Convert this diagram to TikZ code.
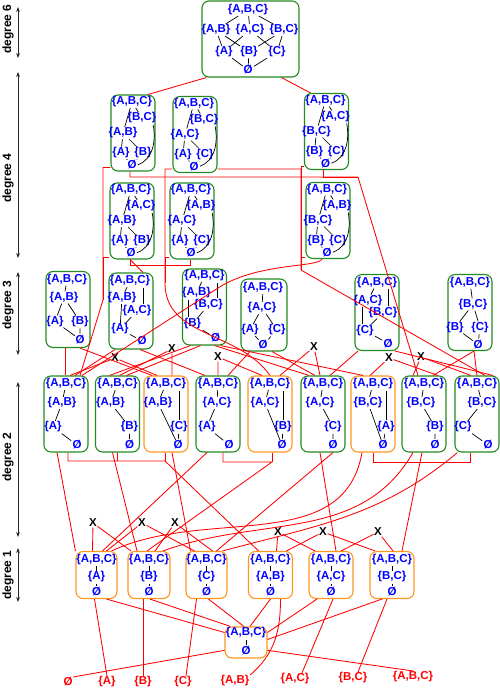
\documentclass[tikz,border=0pt]{standalone}
\usepackage{fontspec}
\setmainfont{Liberation Sans}
\usetikzlibrary{arrows.meta}

\definecolor{boxgreen}{RGB}{34,139,34}
\definecolor{boxorange}{RGB}{255,150,30}
\definecolor{setblue}{RGB}{0,0,255}

\newcommand{\sA}{\{A\}}
\newcommand{\sB}{\{B\}}
\newcommand{\sC}{\{C\}}
\newcommand{\sAB}{\{A,B\}}
\newcommand{\sAC}{\{A,C\}}
\newcommand{\sBC}{\{B,C\}}
\newcommand{\sABC}{\{A,B,C\}}
\newcommand{\sE}{\O}

\begin{document}
\begin{tikzpicture}[x=1pt, y=-1pt,
set/.style={text=setblue, inner sep=0.5pt, font=\bfseries\fontsize{11.5}{12}\selectfont},
lbl/.style={text=red, inner sep=0.5pt, font=\bfseries\fontsize{11.5}{12}\selectfont},
cross/.style={inner sep=0.5pt, font=\bfseries\fontsize{11.5}{12}\selectfont},
gbox/.style={draw=boxgreen, line width=1.1pt, rounded corners=7pt,
             minimum width=44pt, minimum height=76pt, inner sep=0pt},
obox/.style={gbox, draw=boxorange},
hasse/.style={black, line width=0.7pt, shorten <=0.8pt, shorten >=0.8pt},
wire/.style={red, line width=0.85pt},
axis/.style={{Stealth[length=5pt]}-{Stealth[length=5pt]}, line width=0.9pt, black!85},
deglabel/.style={rotate=90, font=\bfseries\fontsize{12}{13}\selectfont}
]
\useasboundingbox (0,0) rectangle (500,689);

% degree axis
\foreach \dg/\ya/\yb/\yt in {6/7/58/29, 4/72/258/178, 3/272/355/305, 2/382/537/457, 1/548/602/575} {
  \draw[axis] (18,\ya) -- (18,\yb);
  \node[deglabel] (deg\dg) at (8,\yt) {degree \dg};
}

% degree 6
\node[gbox, minimum width=97pt] (d6) at (250.5,39) {};
\node[set] (d6-t) at (248,10) {\sABC};
\node[set] (d6-ab) at (216,30) {\sAB};
\node[set] (d6-ac) at (250,30) {\sAC};
\node[set] (d6-bc) at (284,30) {\sBC};
\node[set] (d6-a) at (224,52) {\sA};
\node[set] (d6-b) at (249,52) {\sB};
\node[set] (d6-c) at (277,52) {\sC};
\node[set] (d6-z) at (248,70) {\sE};
\draw[hasse] (d6-t) -- (d6-ab) (d6-t) -- (d6-ac) (d6-t) -- (d6-bc)
  (d6-ab) -- (d6-a) (d6-ab) -- (d6-b) (d6-ac) -- (d6-a) (d6-ac) -- (d6-c)
  (d6-bc) -- (d6-b) (d6-bc) -- (d6-c)
  (d6-a) -- (d6-z) (d6-b) -- (d6-z) (d6-c) -- (d6-z);

% degree 4
\foreach \nm/\cx/\cy/\ra/\rb/\rc/\rd in {
  d4a/133/133/\sBC/\sAB/\sA/\sB, d4b/195/134.5/\sBC/\sAC/\sA/\sC,
  d4c/326.5/131.5/\sAC/\sBC/\sB/\sC, d4d/132/221/\sAC/\sAB/\sA/\sB,
  d4e/192/221/\sAB/\sAC/\sA/\sC, d4f/328/220.5/\sAB/\sBC/\sB/\sC} {
  \node[gbox] (\nm) at (\cx,\cy) {};
  \begin{scope}[shift={(\cx,\cy)}]
    \node[set] (\nm-t) at (-1,-31) {\sABC};
    \node[set] (\nm-r) at (9,-15) {\ra};
    \node[set] (\nm-m) at (-10,0) {\rb};
    \node[set] (\nm-l) at (-12,20) {\rc};
    \node[set] (\nm-q) at (10,20) {\rd};
    \node[set] (\nm-z) at (-1,32) {\sE};
  \end{scope}
  \draw[hasse] (\nm-t) -- (\nm-r) (\nm-t) -- (\nm-m) (\nm-m) -- (\nm-l)
    (\nm-m) -- (\nm-q) (\nm-l) -- (\nm-z) (\nm-q) -- (\nm-z);
  \draw[hasse] ([xshift=-4pt]\nm-r.south east) to[out=-80,in=20] (\nm-z.east);
}

% degree 3
\node[gbox] (d3a) at (68,309.5) {};
\begin{scope}[shift={(68,309.5)}]
  \node[set] (d3a-t) at (-1,-30) {\sABC};
  \node[set] (d3a-m) at (-4,-12) {\sAB};
  \node[set] (d3a-l) at (-13,12) {\sA};
  \node[set] (d3a-r) at (12,12) {\sB};
  \node[set] (d3a-z) at (12,30) {\sE};
\end{scope}
\draw[hasse] (d3a-t) -- (d3a-m) (d3a-m) -- (d3a-l) (d3a-m) -- (d3a-r)
  (d3a-l) -- (d3a-z) (d3a-r) -- (d3a-z);

\node[gbox] (d3b) at (131,311) {};
\begin{scope}[shift={(131,311)}]
  \node[set] (d3b-t) at (-1,-30) {\sABC};
  \node[set] (d3b-m) at (-9,-13) {\sAB};
  \node[set] (d3b-n) at (6,0) {\sAC};
  \node[set] (d3b-l) at (-11,18) {\sA};
  \node[set] (d3b-z) at (11,30) {\sE};
\end{scope}
\draw[hasse] (d3b-t) -- (d3b-m) (d3b-m) -- (d3b-l) (d3b-n) -- (d3b-l) (d3b-l) -- (d3b-z);
\draw[hasse] ([xshift=13pt]d3b-t.south) -- ([xshift=6pt]d3b-n.north);

\node[gbox] (d3c) at (204.5,307) {};
\begin{scope}[shift={(204.5,307)}]
  \node[set] (d3c-t) at (0,-31) {\sABC};
  \node[set] (d3c-m) at (-8,-14) {\sAB};
  \node[set] (d3c-n) at (4,-2) {\sBC};
  \node[set] (d3c-l) at (-12,17) {\sB};
  \node[set] (d3c-z) at (11,31) {\sE};
\end{scope}
\draw[hasse] (d3c-t) -- (d3c-m) (d3c-n) -- (d3c-l) (d3c-l) -- (d3c-z);
\draw[hasse] ([xshift=13pt]d3c-t.south) -- ([xshift=9pt]d3c-n.north);
\draw[hasse] ([xshift=-8pt]d3c-m.south) -- ([xshift=-4pt]d3c-l.north);

\node[gbox, minimum width=46pt, minimum height=72pt] (d3d) at (264,315) {};
\begin{scope}[shift={(264,315)}]
  \node[set] (d3d-t) at (-1,-27) {\sABC};
  \node[set] (d3d-m) at (-2,-7) {\sAC};
  \node[set] (d3d-l) at (-14,15) {\sA};
  \node[set] (d3d-r) at (13,15) {\sC};
  \node[set] (d3d-z) at (-1,30) {\sE};
\end{scope}
\draw[hasse] (d3d-t) -- (d3d-m) (d3d-m) -- (d3d-l) (d3d-m) -- (d3d-r)
  (d3d-l) -- (d3d-z) (d3d-r) -- (d3d-z);

\node[gbox] (d3e) at (377,312.5) {};
\begin{scope}[shift={(377,312.5)}]
  \node[set] (d3e-t) at (0,-30) {\sABC};
  \node[set] (d3e-m) at (-9,-12) {\sAC};
  \node[set] (d3e-n) at (6,0) {\sBC};
  \node[set] (d3e-l) at (-12,18) {\sC};
  \node[set] (d3e-z) at (11,31) {\sE};
\end{scope}
\draw[hasse] (d3e-t) -- (d3e-m) (d3e-n) -- (d3e-l) (d3e-l) -- (d3e-z);
\draw[hasse] ([xshift=11pt]d3e-t.south) -- ([xshift=5pt]d3e-n.north);
\draw[hasse] ([xshift=-6pt]d3e-m.south) -- ([xshift=-3pt]d3e-l.north);

\node[gbox] (d3f) at (470,312.5) {};
\begin{scope}[shift={(470,312.5)}]
  \node[set] (d3f-t) at (0,-30) {\sABC};
  \node[set] (d3f-m) at (3,-8) {\sBC};
  \node[set] (d3f-l) at (-15,15) {\sB};
  \node[set] (d3f-r) at (10,15) {\sC};
  \node[set] (d3f-z) at (8,32) {\sE};
\end{scope}
\draw[hasse] (d3f-t) -- (d3f-m) (d3f-m) -- (d3f-l) (d3f-m) -- (d3f-r)
  (d3f-l) -- (d3f-z) (d3f-r) -- (d3f-z);

% degree 2, chains
\foreach \nm/\cx/\ra/\mx/\rb/\lx/\zx in {
  d2a/66/\sAB/-4/\sA/-13/11, d2b/117.5/\sAB/-7/\sB/12/12,
  d2d/218/\sAC/-1/\sA/-11/11, d2f/323/\sAC/-3/\sC/10/10,
  d2h/424/\sBC/-3/\sB/11/11, d2i/477/\sBC/5/\sC/-14/11} {
  \node[gbox] (\nm) at (\cx,414) {};
  \begin{scope}[shift={(\cx,414)}]
    \node[set] (\nm-t) at (0,-30) {\sABC};
    \node[set] (\nm-m) at (\mx,-11) {\ra};
    \node[set] (\nm-l) at (\lx,13) {\rb};
    \node[set] (\nm-z) at (\zx,31) {\sE};
  \end{scope}
  \draw[hasse] (\nm-t) -- (\nm-m) -- (\nm-l) -- (\nm-z);
}
% degree 2, squares
\foreach \nm/\cx/\ra/\mx/\rb/\rx/\zx in {
  d2c/166/\sAB/-8/\sC/13/12, d2e/270/\sAC/-5/\sB/13/12,
  d2g/373/\sBC/-5/\sA/13/10} {
  \node[obox] (\nm) at (\cx,414) {};
  \begin{scope}[shift={(\cx,414)}]
    \node[set] (\nm-t) at (0,-30) {\sABC};
    \node[set] (\nm-m) at (\mx,-11) {\ra};
    \node[set] (\nm-r) at (\rx,13) {\rb};
    \node[set] (\nm-z) at (\zx,31) {\sE};
  \end{scope}
  \draw[hasse] (\nm-t) -- (\nm-m) (\nm-m) -- (\nm-z) (\nm-r) -- (\nm-z);
  \draw[hasse] (\nm-t.south -| \nm-r) -- (\nm-r.north);
}

% degree 1
\foreach \nm/\cx/\bw/\rb in {
  d1a/96.5/41/\sA, d1b/149/42/\sB, d1c/206.5/41/\sC,
  d1d/270.5/44/\sAB, d1e/331/44/\sAC, d1f/392/44/\sBC} {
  \node[obox, minimum width=\bw, minimum height=47pt] (\nm) at (\cx,575) {};
  \node[set] (\nm-t) at (\cx,560) {\sABC};
  \node[set] (\nm-m) at (\cx,577) {\rb};
  \node[set] (\nm-z) at (\cx,592) {\sE};
  \draw[hasse] (\nm-t) -- (\nm-m) -- (\nm-z);
}

% degree 0
\node[obox, minimum width=42pt, minimum height=31pt] (d0) at (246,642.5) {};
\node[set] (d0-t) at (246,633) {\sABC};
\node[set] (d0-z) at (246,651) {\sE};
\draw[hasse] (d0-t) -- (d0-z);

% bottom labels
\node[lbl] (lE) at (68,682) {\sE};
\node[lbl] (lA) at (107,682) {\sA};
\node[lbl] (lB) at (143,682) {\sB};
\node[lbl] (lC) at (183,682) {\sC};
\node[lbl] (lAB) at (235,681) {\sAB};
\node[lbl] (lAC) at (295,679) {\sAC};
\node[lbl] (lBC) at (353,678) {\sBC};
\node[lbl] (lABC) at (413,677) {\sABC};

% product marks
\node[cross] (xa) at (115,358) {X};
\node[cross] (xb) at (172,349) {X};
\node[cross] (xc) at (218,357) {X};
\node[cross] (xd) at (314,347) {X};
\node[cross] (xe) at (389,358) {X};
\node[cross] (xf) at (421,357) {X};
\node[cross] (xg) at (93,523) {X};
\node[cross] (xh) at (142,523) {X};
\node[cross] (xi) at (175,523) {X};
\node[cross] (xj) at (278,532) {X};
\node[cross] (xk) at (323,532) {X};
\node[cross] (xl) at (378,532) {X};

% wires, degree 6 to 4
\draw[wire] ([xshift=5pt]d6.south west) -- ([xshift=15pt]d4a.north);
\draw[wire] ([xshift=-18pt]d6.south east) -- ([xshift=-16pt]d4c.north);

% wires, degree 4 down
\coordinate (bus1) at (103,300);
\coordinate (bus2) at (165,283);
\coordinate (bus3) at (301,270);
\coordinate (bus4) at (358,177);
\coordinate (bus5a) at (130,265);
\coordinate (bus5b) at (190,265);
\coordinate (bend1) at (215,290);
\draw[wire] ([yshift=4pt]d4a.south west) -| (bus1) -- ([xshift=14pt]d2a.north);
\draw[wire] ([yshift=2pt]d4d.south west) -| (bus1);
\draw[wire] ([yshift=4pt]d4b.south west) -| (bus2) to[out=-90,in=125] (d2e.north);
\draw[wire] ([yshift=2pt]d4e.south west) -| (bus2);
\draw[wire] ([yshift=4pt]d4b.south east) -| (bus3) -- ([xshift=8pt]d2i.north);
\draw[wire] ([yshift=4pt]d4c.south west) -| (bus3);
\draw[wire] ([yshift=2pt]d4f.south west) -| (bus3);
\draw[wire] ([xshift=-3pt]d4a.south) |- (bus4) -- ([xshift=-6pt]d2h.north);
\draw[wire] ([xshift=-3pt]d4c.south) |- (bus4);
\draw[wire] ([xshift=-2pt]d4d.south) -- (bus5a) -- (bus5b) -- ([xshift=-2pt]d4e.south);
\draw[wire] ([xshift=-2pt]d4d.south) -- ([xshift=12pt]d3b.north);
\draw[wire] ([xshift=-6pt]d4f.south) .. controls (318,268) and (255,262) .. (bend1)
  -- ([xshift=16pt]d2a.north);

% wires, degree 3 to 2
\draw[wire] ([xshift=-3pt]d3a.south) -- ([xshift=-1pt]d2a.north);
\draw[wire] ([xshift=12pt]d3a.south) -- ([xshift=-14pt]d2c.north);
\draw[wire] ([xshift=-16pt]d3b.south) -- ([xshift=9pt]d2a.north);
\draw[wire] ([xshift=9pt]d3b.south) -- ([xshift=-13pt]d2d.north);
\draw[wire] ([xshift=-14pt]d3c.south) -- ([xshift=-8pt]d2b.north);
\draw[wire] ([xshift=-4pt]d3c.south) -- ([xshift=9pt]d2b.north);
\draw[wire] ([xshift=10pt]d3c.south) -- ([xshift=-14pt]d2f.north);
\draw[wire] ([xshift=16pt]d3c.south) -- ([xshift=-10pt]d2g.north);
\draw[wire] ([xshift=-14pt]d3d.south) -- ([xshift=10pt]d2d.north);
\draw[wire] ([xshift=8pt]d3d.south) -- ([xshift=-8pt]d2f.north);
\draw[wire] ([xshift=-19pt]d3e.south) -- ([xshift=7pt]d2f.north);
\draw[wire] ([xshift=18pt]d3e.south) -- ([xshift=16pt]d2i.north);
\draw[wire] ([xshift=4pt]d3f.south) -- (d2i.north);
\draw[wire] ([xshift=4pt]d3f.south) -- ([xshift=9pt]d2h.north);
\draw[wire] (xa) -- ([xshift=4pt]d2a.north) (xa) -- ([xshift=-9pt]d2c.north);
\draw[wire] (xb) -- ([xshift=2pt]d2b.north) (xb) -- ([xshift=6pt]d2c.north);
\draw[wire] (xc) -- (d2d.north) (xc) -- ([xshift=-8pt]d2e.north);
\draw[wire] (xd) -- ([xshift=10pt]d2e.north) (xd) -- ([xshift=-3pt]d2f.north);
\draw[wire] (xe) -- ([xshift=-3pt]d2g.north) (xe) -- ([xshift=14pt]d2h.north);
\draw[wire] (xf) -- ([xshift=-11pt]d2h.north) (xf) -- ([xshift=-6pt]d2i.north);

% wires, degree 2 to 1
\coordinate (br1) at (165,461);
\coordinate (br2) at (272,462);
\coordinate (br3) at (470,462);
\draw[wire] ([xshift=-9pt]d2a.south) -- (d1a.north west);
\draw[wire] ([xshift=2pt]d2a.south) |- (br1) -- ([xshift=-12pt]d1d.north);
\draw[wire] (d2b.south) -- (d2b.south |- br1);
\draw[wire] (d2c.south -| br1) -- (br1);
\draw[wire] ([xshift=-5pt]d2b.south) -- ([xshift=-12pt]d1b.north);
\draw[wire] ([xshift=6pt]d2c.south) -- ([xshift=-16pt]d1c.north);
\draw[wire] ([xshift=-11pt]d2d.south) -- ([xshift=6pt]d1a.north);
\draw[wire] ([xshift=5pt]d2d.south) |- (br2) -- ([xshift=-2pt]d1b.north);
\draw[wire] (d2e.south -| br2) -- (br2);
\draw[wire] ([xshift=-3pt]d2f.south) -- ([xshift=5pt]d1e.north);
\draw[wire] ([xshift=10pt]d2f.south) -- ([xshift=10pt]d1c.north);
\draw[wire] ([xshift=-11pt]d2g.south) to[out=-100,in=25] ([xshift=15pt]d1a.north);
\draw[wire] ([xshift=-11pt]d2h.south) to[out=-120,in=20] ([xshift=14pt]d1b.north);
\draw[wire] ([xshift=3pt]d2i.south west) to[out=-140,in=15] ([xshift=16pt]d1c.north);
\draw[wire] (d2g.south) |- (br3) -- (br3 |- d2i.south);
\draw[wire] ([xshift=-2pt]d2h.south) -- ([xshift=10pt]d1f.north);
\draw[wire] (xg) -- ([xshift=-4pt]d1a.north) (xg) -- ([xshift=-18pt]d1b.north);
\draw[wire] (xh) -- ([xshift=10pt]d1a.north) (xh) -- ([xshift=-12pt]d1c.north);
\draw[wire] (xi) -- ([xshift=6pt]d1b.north) (xi) -- ([xshift=6pt]d1c.north);
\draw[wire] (xj) -- ([xshift=6pt]d1d.north) (xj) -- ([xshift=-16pt]d1e.north);
\draw[wire] (xk) -- ([xshift=16pt]d1d.north) (xk) -- ([xshift=-17pt]d1f.north);
\draw[wire] (xl) -- ([xshift=10pt]d1e.north) (xl) -- ([xshift=1pt]d1f.north);

% wires, degree 1 to 0 and to the labels
\draw[wire] ([xshift=10pt]d1a.south) -- (d0.155);
\draw[wire] ([xshift=1pt]d1b.south) -- ([xshift=6pt]d0.north west);
\draw[wire] ([xshift=2pt]d1c.south) -- ([xshift=-2pt]d0.north);
\draw[wire] (d1d.south) -- ([xshift=4pt]d0.north);
\draw[wire] ([xshift=-14pt]d1e.south) -- (d0.25);
\draw[wire] ([xshift=-10pt]d1f.south) -- (d0.8);
\draw[wire] (d0.-160) -- (lE.north east);
\draw[wire] ([xshift=-2pt]d1a.south) -- (lA.north);
\draw[wire] ([xshift=-6pt]d1b.south) -- (lB.north);
\draw[wire] ([xshift=-10pt]d1c.south) -- ([xshift=3pt]lC.north);
\draw[wire] ([xshift=10pt]d1d.south) to[out=-90,in=40] (lAB.north east);
\draw[wire] ([xshift=2pt]d1e.south) -- ([xshift=7pt]lAC.north);
\draw[wire] ([xshift=-5pt]d1f.south) -- ([xshift=5pt]lBC.north);
\draw[wire] (d0.-20) -- (lABC.north);
\end{tikzpicture}
\end{document}
